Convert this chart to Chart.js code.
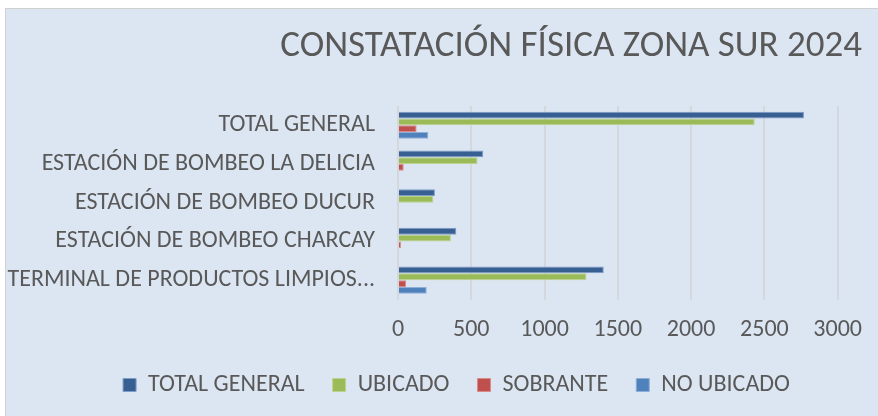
<!DOCTYPE html>
<html>
<head>
<meta charset="utf-8">
<script src="https://cdn.jsdelivr.net/npm/chart.js@4.4.1/dist/chart.umd.min.js"></script>
<style>
  html, body { margin: 0; padding: 0; background: #ffffff; }
  #wrap { position: relative; width: 878px; height: 416px; }
</style>
</head>
<body>
<div id="wrap"><canvas id="chart" width="878" height="416"></canvas></div>
<script>
// categories (top to bottom as shown)
const categories = [
  'TOTAL GENERAL',
  'ESTACIÓN DE BOMBEO LA DELICIA',
  'ESTACIÓN DE BOMBEO DUCUR',
  'ESTACIÓN DE BOMBEO CHARCAY',
  'TERMINAL DE PRODUCTOS LIMPIOS...'
];

// series values
const totalGeneral = [2770, 582, 252, 398, 1404];
const ubicado = [2434, 543, 241, 361, 1286];
const sobrante = [127, 39, 6, 20, 55];
const noUbicado = [207, 0, 0, 8, 196];

const xTicks = [0, 500, 1000, 1500, 2000, 2500, 3000];

const FONT = "Carlito, 'Liberation Sans Narrow', 'DejaVu Sans Condensed', 'Open Sans', sans-serif";
const TEXT = '#595959';

// light blue panel behind the whole chart
const panelBg = {
  id: 'panelBg',
  beforeDraw(chart) {
    const ctx = chart.ctx;
    ctx.save();
    ctx.fillStyle = '#dce6f2';
    ctx.fillRect(5, 8, chart.width - 5, chart.height - 8);
    ctx.strokeStyle = '#d0d0d0';
    ctx.lineWidth = 1;
    ctx.strokeRect(5.5, 8.5, chart.width - 5, chart.height - 8);
    ctx.restore();
  }
};

// title hugs the right edge, legend sits a bit right of centre
const placeBlocks = {
  id: 'placeBlocks',
  afterLayout(chart) {
    if (chart.titleBlock) chart.titleBlock.right = 862;
    if (chart.legend) {
      chart.legend.left = 40;
      chart.legend.right = 873;
    }
  }
};

const ctx = document.getElementById('chart').getContext('2d');
new Chart(ctx, {
  type: 'bar',
  data: {
    labels: categories,
    datasets: [
      { label: 'TOTAL GENERAL', data: totalGeneral, backgroundColor: '#375f92', borderColor: '#7d9cc6', borderWidth: 1 },
      { label: 'UBICADO', data: ubicado, backgroundColor: '#9bbb59', borderColor: '#bcd28f', borderWidth: 1 },
      { label: 'SOBRANTE', data: sobrante, backgroundColor: '#c0504d', borderColor: '#d88a88', borderWidth: 1 },
      { label: 'NO UBICADO', data: noUbicado, backgroundColor: '#4f81bd', borderColor: '#8eaed6', borderWidth: 1 }
    ]
  },
  options: {
    indexAxis: 'y',
    responsive: false,
    animation: false,
    devicePixelRatio: 1,
    categoryPercentage: 0.7,
    barPercentage: 1.0,
    layout: { padding: { left: 5, right: 40, top: 8, bottom: 9 } },
    plugins: {
      title: {
        display: true,
        text: 'CONSTATACIÓN FÍSICA ZONA SUR 2024',
        align: 'end',
        color: TEXT,
        font: { family: FONT, size: 37, weight: 'normal' },
        padding: { top: 17, bottom: 36.5 }
      },
      legend: {
        position: 'bottom',
        labels: {
          color: TEXT,
          font: { family: FONT, size: 24 },
          boxWidth: 13,
          boxHeight: 13,
          padding: 28
        }
      },
      tooltip: { enabled: false }
    },
    scales: {
      x: {
        min: 0,
        max: 3000,
        afterBuildTicks(scale) { scale.ticks = xTicks.map(v => ({ value: v })); },
        afterFit(scale) { scale.height = 45.5; },
        grid: { color: '#d4d8dd', lineWidth: 2, drawTicks: false },
        border: { display: false },
        ticks: { color: TEXT, font: { family: FONT, size: 24 }, padding: 16, callback: v => String(v) }
      },
      y: {
        afterFit(scale) { scale.width = 393; },
        grid: { display: false, drawTicks: false },
        border: { display: false },
        ticks: { color: TEXT, font: { family: FONT, size: 24 }, padding: 23 }
      }
    }
  },
  plugins: [panelBg, placeBlocks]
});
</script>
</body>
</html>
